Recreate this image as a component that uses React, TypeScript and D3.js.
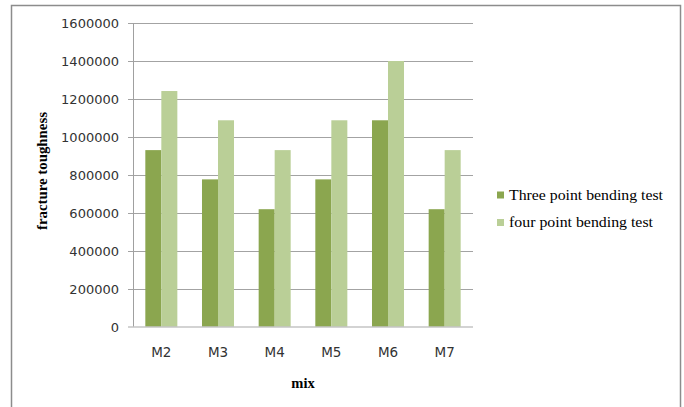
import React from "react";
import * as d3 from "d3";

const mixes = ["M2", "M3", "M4", "M5", "M6", "M7"];
const threePoint = [931000, 777000, 620000, 777000, 1088000, 620000];
const fourPoint = [1242000, 1088000, 931000, 1088000, 1400000, 931000];
const seriesNames = ["Three point bending test", "four point bending test"];
const yTicks = [0, 200000, 400000, 600000, 800000, 1000000, 1200000, 1400000, 1600000];

const W = 684;
const H = 407;
const plot = { left: 133, right: 473, top: 23, bottom: 327 };
const colors = ["#8ba64f", "#bacf97"];
const legendWidths = [154, 144];
const tickFont = "'DejaVu Sans', sans-serif";
const serif = "'Liberation Serif', 'Times New Roman', serif";

export default function App() {
  const x = d3
    .scaleBand<string>()
    .domain(mixes)
    .range([plot.left, plot.right])
    .paddingInner(0.435)
    .paddingOuter(0.2175);
  const inner = d3
    .scaleBand<number>()
    .domain([0, 1])
    .range([0, x.bandwidth()]);
  const y = d3.scaleLinear().domain([0, 1600000]).range([plot.bottom, plot.top]);
  const series = [threePoint, fourPoint];

  return (
    <svg
      width={W}
      height={H}
      style={{ position: "absolute", left: 0, top: 0, display: "block", background: "#fff" }}
    >
      <rect x={11.5} y={5.5} width={669} height={H} fill="#fff" stroke="#8c8c8c" strokeWidth={1.5} />

      {/* gridlines */}
      {yTicks.slice(1).map((t) => (
        <line
          key={t}
          x1={plot.left - 5}
          x2={plot.right}
          y1={Math.round(y(t)) + 0.5}
          y2={Math.round(y(t)) + 0.5}
          stroke="#a3a3a3"
          strokeWidth={1}
        />
      ))}

      {/* bars */}
      {series.map((vals, si) =>
        mixes.map((m, i) => {
          const bx = (x(m) as number) + (inner(si) as number);
          const by = y(vals[i]);
          return (
            <rect
              key={`${si}-${m}`}
              x={bx}
              y={by}
              width={inner.bandwidth()}
              height={plot.bottom - by}
              fill={colors[si]}
            />
          );
        })
      )}

      {/* axes */}
      <line
        x1={plot.left + 0.5}
        x2={plot.left + 0.5}
        y1={plot.top}
        y2={plot.bottom}
        stroke="#a0a0a0"
        strokeWidth={1}
      />
      <line
        x1={plot.left - 5}
        x2={plot.right}
        y1={plot.bottom}
        y2={plot.bottom}
        stroke="#c4c4c4"
        strokeWidth={1.6}
      />

      {/* y tick labels */}
      {yTicks.map((t) => (
        <text
          key={t}
          x={plot.left - 14}
          y={y(t)}
          dy="0.36em"
          textAnchor="end"
          fontFamily={tickFont}
          fontSize={13}
          fill="#333"
        >
          {t}
        </text>
      ))}

      {/* x tick labels */}
      {mixes.map((m) => (
        <text
          key={m}
          x={(x(m) as number) + x.bandwidth() / 2}
          y={352}
          dy="0.36em"
          textAnchor="middle"
          fontFamily={tickFont}
          fontSize={13.5}
          fill="#333"
        >
          {m}
        </text>
      ))}

      {/* axis titles */}
      <text
        x={(plot.left + plot.right) / 2}
        y={383}
        dy="0.35em"
        textAnchor="middle"
        fontFamily={serif}
        fontWeight="bold"
        fontSize={14.5}
        fill="#000"
      >
        mix
      </text>
      <text
        transform={`translate(42, 171) rotate(-90)`}
        textAnchor="middle"
        dy="0.35em"
        fontFamily={serif}
        fontWeight="bold"
        fontSize={14}
        textLength={118}
        lengthAdjust="spacingAndGlyphs"
        fill="#000"
      >
        fracture toughness
      </text>

      {/* legend */}
      {seriesNames.map((name, i) => (
        <g key={name} transform={`translate(497, ${195 + i * 27.5})`}>
          <rect x={0} y={-3.5} width={7} height={7} fill={colors[i]} />
          <text
            x={12}
            y={0}
            dy="0.33em"
            fontFamily={serif}
            fontSize={14.5}
            textLength={legendWidths[i]}
            lengthAdjust="spacingAndGlyphs"
            fill="#000"
          >
            {name}
          </text>
        </g>
      ))}
    </svg>
  );
}
